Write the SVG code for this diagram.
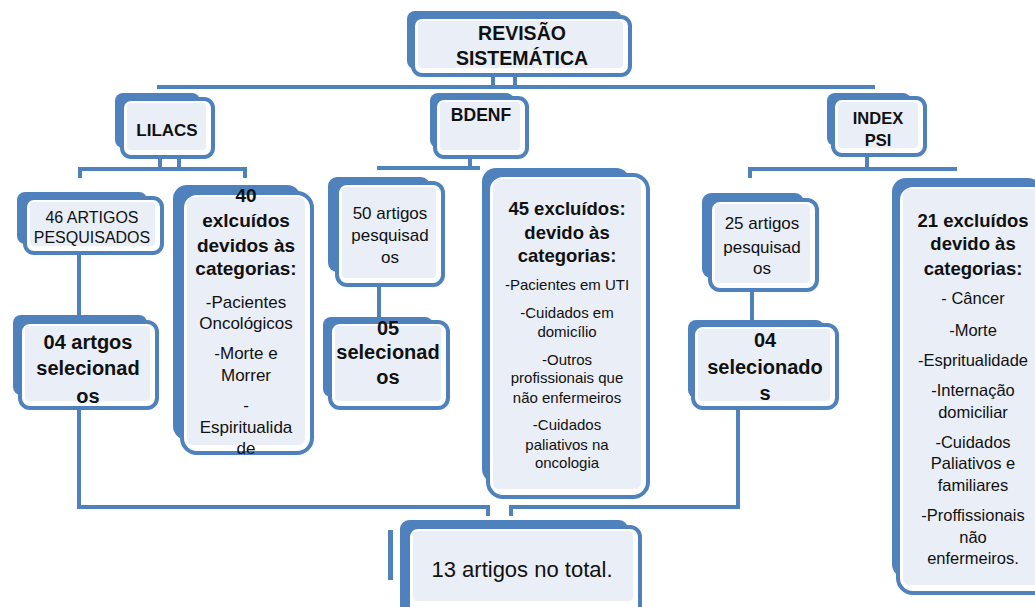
<svg xmlns="http://www.w3.org/2000/svg" width="1035" height="607" viewBox="0 0 1035 607">
<style>
.bk{fill:#4F81BD}
.fr{fill:#FFFFFF;stroke:#4F81BD;stroke-width:4}
.in{fill:#E9EEF7}
.ln{fill:none;stroke:#4F81BD;stroke-width:4}
text{font-family:"Liberation Sans",Arial,sans-serif;fill:#111;text-anchor:middle}
.b{font-weight:bold}
</style>
<rect width="1035" height="607" fill="#FFFFFF"/>
<g id="connectors">
<path class="ln" d="M493 75V87M515 75V87M157 87H875"/>
<path class="ln" d="M160 157V169M179 157V169M80 178V169H245V178"/>
<path class="ln" d="M79 253V322M79 408V507H488V516"/>
<path class="ln" d="M470 157V168M377 168H480"/>
<path class="ln" d="M379 285V317"/>
<path class="ln" d="M511 516V507H738V408"/>
<path class="ln" d="M867 155V169M750 178V169H957"/>
<path class="ln" d="M752 290V320"/>
</g>
<g id="n-revisao">
<rect class="bk" x="407" y="11" width="215" height="58" rx="8"/>
<rect class="fr" x="413" y="17" width="217" height="58" rx="9"/>
<rect class="in" x="418" y="21" width="205" height="47" rx="4"/>
<text class="b" x="522" y="40" font-size="19.5">REVISÃO</text>
<text class="b" x="522" y="65" font-size="19.5">SISTEMÁTICA</text>
</g>
<g id="n-lilacs">
<rect class="bk" x="115" y="93" width="85" height="55" rx="8"/>
<rect class="fr" x="122" y="99" width="91" height="58" rx="9"/>
<rect class="in" x="127" y="103" width="79" height="47" rx="4"/>
<text class="b" x="167" y="136" font-size="17">LILACS</text>
</g>
<g id="n-46">
<rect class="bk" x="17" y="192" width="130" height="52" rx="8"/>
<rect class="fr" x="25" y="198" width="137" height="55" rx="9"/>
<rect class="in" x="30" y="202" width="125" height="44" rx="4"/>
<text x="92" y="223" font-size="16">46 ARTIGOS</text>
<text x="92" y="243" font-size="16">PESQUISADOS</text>
</g>
<g id="n-40">
<rect class="bk" x="173" y="185" width="128" height="255" rx="14"/>
<rect class="fr" x="182" y="193" width="130" height="260" rx="15"/>
<rect class="in" x="187" y="197" width="118" height="248" rx="6"/>
<text class="b" x="246" y="202" font-size="19">40</text>
<text class="b" x="246" y="227" font-size="19">exlcuídos</text>
<text class="b" x="246" y="252" font-size="19">devidos às</text>
<text class="b" x="246" y="275" font-size="19">categorias:</text>
<text x="246" y="308" font-size="17">-Pacientes</text>
<text x="246" y="329" font-size="17">Oncológicos</text>
<text x="246" y="359" font-size="17">-Morte e</text>
<text x="246" y="381" font-size="17">Morrer</text>
<text x="246" y="411" font-size="17">-</text>
<text x="246" y="433" font-size="17">Espiritualida</text>
<text x="246" y="454" font-size="17">de</text>
</g>
<g id="n-04a">
<rect class="bk" x="13" y="315" width="134" height="80" rx="8"/>
<rect class="fr" x="20" y="322" width="137" height="86" rx="10"/>
<rect class="in" x="25" y="326" width="125" height="75" rx="4"/>
<text class="b" x="88" y="349" font-size="20">04 artgos</text>
<text class="b" x="88" y="375" font-size="20">selecionad</text>
<text class="b" x="88" y="403" font-size="20">os</text>
</g>
<g id="n-bdenf">
<rect class="bk" x="430" y="93" width="84" height="55" rx="8"/>
<rect class="fr" x="435" y="98" width="92" height="59" rx="9"/>
<rect class="in" x="440" y="102" width="80" height="48" rx="4"/>
<text class="b" x="481" y="121" font-size="17.5">BDENF</text>
</g>
<g id="n-50">
<rect class="bk" x="328" y="177" width="102" height="95" rx="9"/>
<rect class="fr" x="337" y="183" width="106" height="102" rx="10"/>
<rect class="in" x="342" y="187" width="94" height="91" rx="4"/>
<text x="390" y="219" font-size="17">50 artigos</text>
<text x="390" y="241" font-size="17">pesquisad</text>
<text x="390" y="263" font-size="17">os</text>
</g>
<g id="n-05">
<rect class="bk" x="323" y="317" width="110" height="80" rx="8"/>
<rect class="fr" x="330" y="322" width="118" height="86" rx="10"/>
<rect class="in" x="335" y="326" width="106" height="75" rx="4"/>
<text class="b" x="388" y="335" font-size="20">05</text>
<text class="b" x="388" y="359" font-size="20">selecionad</text>
<text class="b" x="388" y="384" font-size="20">os</text>
</g>
<g id="n-45">
<rect class="bk" x="482" y="168" width="148" height="315" rx="14"/>
<rect class="fr" x="488" y="175" width="160" height="322" rx="15"/>
<rect class="in" x="493" y="179" width="148" height="310" rx="6"/>
<text class="b" x="567" y="215" font-size="18.5">45 excluídos:</text>
<text class="b" x="567" y="239" font-size="18.5">devido às</text>
<text class="b" x="567" y="262" font-size="18.5">categorias:</text>
<text x="567" y="290" font-size="15">-Pacientes em UTI</text>
<text x="567" y="318" font-size="15">-Cuidados em</text>
<text x="567" y="337" font-size="15">domicílio</text>
<text x="567" y="365" font-size="15">-Outros</text>
<text x="567" y="383" font-size="15">profissionais que</text>
<text x="567" y="403" font-size="15">não enfermeiros</text>
<text x="567" y="430" font-size="15">-Cuidados</text>
<text x="567" y="450" font-size="15">paliativos na</text>
<text x="567" y="468" font-size="15">oncologia</text>
</g>
<g id="n-index">
<rect class="bk" x="827" y="93" width="84" height="53" rx="8"/>
<rect class="fr" x="833" y="98" width="92" height="57" rx="9"/>
<rect class="in" x="838" y="102" width="80" height="46" rx="4"/>
<text class="b" x="878" y="124" font-size="16.5">INDEX</text>
<text class="b" x="878" y="146" font-size="16.5">PSI</text>
</g>
<g id="n-25">
<rect class="bk" x="702" y="193" width="102" height="85" rx="9"/>
<rect class="fr" x="710" y="200" width="107" height="90" rx="10"/>
<rect class="in" x="715" y="204" width="95" height="79" rx="4"/>
<text x="762" y="229" font-size="17">25 artigos</text>
<text x="762" y="253" font-size="17">pesquisad</text>
<text x="762" y="274" font-size="17">os</text>
</g>
<g id="n-04b">
<rect class="bk" x="688" y="320" width="136" height="78" rx="8"/>
<rect class="fr" x="693" y="325" width="144" height="83" rx="10"/>
<rect class="in" x="698" y="329" width="132" height="72" rx="4"/>
<text class="b" x="765" y="347" font-size="20">04</text>
<text class="b" x="765" y="374" font-size="20">selecionado</text>
<text class="b" x="765" y="400" font-size="20">s</text>
</g>
<g id="n-21">
<rect class="bk" x="892" y="178" width="150" height="400" rx="14"/>
<rect class="fr" x="898" y="185" width="150" height="408" rx="15"/>
<rect class="in" x="903" y="189" width="140" height="396" rx="6"/>
<text class="b" x="973" y="227" font-size="18.5">21 excluídos</text>
<text class="b" x="973" y="250" font-size="18.5">devido às</text>
<text class="b" x="973" y="275" font-size="18.5">categorias:</text>
<text x="973" y="304" font-size="16.5">- Câncer</text>
<text x="973" y="336" font-size="16.5">-Morte</text>
<text x="973" y="366" font-size="16.5">-Espritualidade</text>
<text x="973" y="396" font-size="16.5">-Internação</text>
<text x="973" y="418" font-size="16.5">domiciliar</text>
<text x="973" y="448" font-size="16.5">-Cuidados</text>
<text x="973" y="469" font-size="16.5">Paliativos e</text>
<text x="973" y="491" font-size="16.5">familiares</text>
<text x="973" y="521" font-size="16.5">-Proffissionais</text>
<text x="973" y="543" font-size="16.5">não</text>
<text x="973" y="564" font-size="16.5">enfermeiros.</text>
</g>
<g id="n-13">
<rect class="bk" x="388" y="530" width="5" height="50"/>
<rect class="bk" x="400" y="520" width="228" height="95" rx="9"/>
<rect class="fr" x="408" y="527" width="232" height="95" rx="10"/>
<rect class="in" x="413" y="531" width="220" height="70" rx="4"/>
<text x="522" y="577" font-size="22">13 artigos no total.</text>
</g>
</svg>
